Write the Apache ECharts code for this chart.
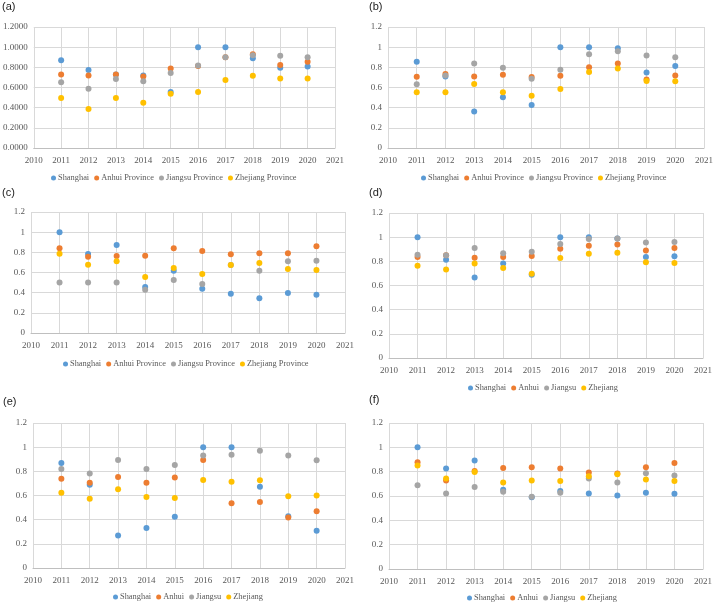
<!DOCTYPE html>
<html><head><meta charset="utf-8">
<script src="https://cdn.jsdelivr.net/npm/echarts@6/dist/echarts.min.js"></script>
<style>html,body{margin:0;padding:0;background:#fff}#c{width:716px;height:607px}</style>
</head><body><div id="c"></div>
<script>
const years = [2011,2012,2013,2014,2015,2016,2017,2018,2019,2020];
const panelLabels = ['(a)','(b)','(c)','(d)','(e)','(f)'];
const namesLong = ['Shanghai','Anhui Province','Jiangsu Province','Zhejiang Province'];
const namesShort = ['Shanghai','Anhui','Jiangsu','Zhejiang'];

// (a)
const aShanghai = [0.871,0.773,0.73,0.72,0.556,1.0,1.0,0.891,0.796,0.809];
const aAnhui    = [0.730,0.720,0.73,0.71,0.789,0.812,0.90,0.93,0.822,0.855];
const aJiangsu  = [0.651,0.588,0.684,0.661,0.743,0.818,0.901,0.92,0.914,0.901];
const aZhejiang = [0.496,0.388,0.496,0.45,0.539,0.556,0.674,0.717,0.69,0.69];
// (b)
const bShanghai = [0.855,0.71,0.362,0.503,0.427,1.0,1.0,0.99,0.75,0.812];
const bAnhui    = [0.707,0.733,0.71,0.726,0.703,0.717,0.80,0.838,0.68,0.72];
const bJiangsu  = [0.631,0.72,0.838,0.796,0.687,0.776,0.93,0.96,0.917,0.90];
const bZhejiang = [0.552,0.552,0.634,0.552,0.519,0.585,0.753,0.789,0.664,0.661];
// (c)
const cShanghai = [1.0,0.783,0.873,0.456,0.618,0.44,0.39,0.344,0.397,0.38];
const cAnhui    = [0.84,0.757,0.764,0.767,0.84,0.813,0.78,0.79,0.79,0.86];
const cJiangsu  = [0.502,0.502,0.502,0.43,0.526,0.486,0.675,0.618,0.711,0.717];
const cZhejiang = [0.787,0.678,0.711,0.555,0.645,0.585,0.674,0.694,0.635,0.625];
// (d)
const dShanghai = [1.0,0.814,0.667,0.783,0.69,1.0,1.0,0.99,0.836,0.843];
const dAnhui    = [0.836,0.85,0.83,0.836,0.845,0.905,0.93,0.94,0.89,0.91];
const dJiangsu  = [0.855,0.85,0.91,0.866,0.88,0.943,0.985,0.99,0.956,0.96];
const dZhejiang = [0.764,0.733,0.783,0.745,0.698,0.828,0.863,0.872,0.792,0.786];
// (e)
const eShanghai = [0.869,0.69,0.27,0.331,0.425,1.0,1.0,0.673,0.428,0.309];
const eAnhui    = [0.739,0.706,0.753,0.706,0.748,0.894,0.535,0.546,0.417,0.469];
const eJiangsu  = [0.819,0.783,0.894,0.819,0.852,0.932,0.938,0.971,0.932,0.891];
const eZhejiang = [0.623,0.574,0.651,0.588,0.579,0.728,0.714,0.726,0.593,0.599];
// (f)
const fShanghai = [1.0,0.826,0.891,0.651,0.59,0.642,0.62,0.604,0.626,0.618];
const fAnhui    = [0.878,0.727,0.806,0.831,0.837,0.826,0.793,0.785,0.837,0.872];
const fJiangsu  = [0.689,0.62,0.675,0.634,0.593,0.626,0.744,0.711,0.787,0.768];
const fZhejiang = [0.85,0.744,0.798,0.711,0.727,0.724,0.763,0.779,0.735,0.724];

const panels = [
  [aShanghai,aAnhui,aJiangsu,aZhejiang],
  [bShanghai,bAnhui,bJiangsu,bZhejiang],
  [cShanghai,cAnhui,cJiangsu,cZhejiang],
  [dShanghai,dAnhui,dJiangsu,dZhejiang],
  [eShanghai,eAnhui,eJiangsu,eZhejiang],
  [fShanghai,fAnhui,fJiangsu,fZhejiang]
];
const colors = ['#5B9BD5','#ED7D31','#A5A5A5','#FFC000'];

// layout: [left, top, width, height]
const grids = [
  [32, 27, 303, 121],
  [388, 27, 316, 121],
  [31, 212, 314, 121],
  [389, 213, 314, 145],
  [33, 423, 312, 145],
  [389, 423, 314, 146]
];
// title: [left, top]
const titlePos = [[2,1],[369,1],[2,187],[369,187],[3,396],[369,394]];
// legend: [left of first marker, vertical centre]
const legendPos = [[51,178],[421,178],[63,364],[468,388],[113,597],[467,598]];

const serif = 'Liberation Serif';
const option = {
  animation:false,
  color: colors,
  title: panelLabels.map((t,i)=>({text:t,left:titlePos[i][0],top:titlePos[i][1],padding:0,
    textStyle:{fontFamily:'Liberation Sans',fontSize:11,fontWeight:'normal',color:'#222'}})),
  legend: panels.map((p,i)=>({
    data:(i<3?namesLong:namesShort),
    left:legendPos[i][0], top:legendPos[i][1]-5, padding:0,
    orient:'horizontal', icon:'circle', itemWidth:5, itemHeight:5, itemGap:5,
    textStyle:{fontFamily:serif,fontSize:8.4,color:'#595959',lineHeight:10,padding:[0,0,0,-3]},
    selectedMode:false
  })),
  grid: grids.map(g=>({left:g[0],top:g[1],width:g[2],height:g[3]})),
  xAxis: grids.map((g,i)=>({
    type:'value', gridIndex:i, min:2010, max:2021, interval:1,
    axisLine:{show:true,lineStyle:{color:'#BFBFBF'}},
    axisTick:{show:false},
    axisLabel:{fontFamily:serif,fontSize:9,color:'#595959',margin:8,formatter:v=>String(v)},
    splitLine:{show:true,lineStyle:{color:'#D9D9D9'}}
  })),
  yAxis: grids.map((g,i)=>({
    type:'value', gridIndex:i, min:0, max:1.2, interval:0.2,
    axisLine:{show:false}, axisTick:{show:false},
    axisLabel:{fontFamily:serif,fontSize:9,color:'#595959',margin:6,
      formatter: i===0 ? (v=>v.toFixed(4)) : (v=>String(+v.toFixed(1)))},
    splitLine:{show:true,lineStyle:{color:'#D9D9D9'}}
  })),
  series: []
};
panels.forEach((p,i)=>{
  const names = i<3?namesLong:namesShort;
  p.forEach((vals,k)=>{
    option.series.push({
      type:'scatter', name:names[k], xAxisIndex:i, yAxisIndex:i,
      symbolSize:6, itemStyle:{color:colors[k],opacity:1},
      emphasis:{disabled:true},
      data: years.map((y,j)=>[y,vals[j]])
    });
  });
});
const chart = echarts.init(document.getElementById('c'),null,{renderer:'canvas'});
chart.setOption(option);
</script></body></html>
